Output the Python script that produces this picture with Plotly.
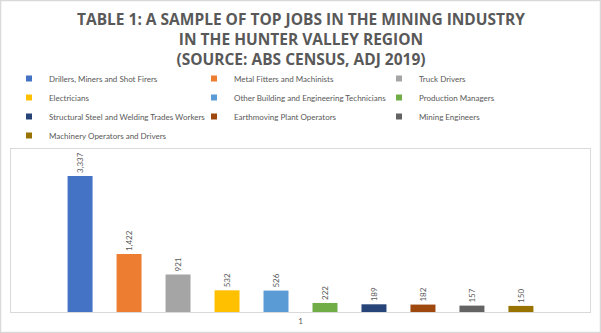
import plotly.graph_objects as go

jobs = [
    "Drillers, Miners and Shot Firers",
    "Metal Fitters and Machinists",
    "Truck Drivers",
    "Electricians",
    "Other Building and Engineering Technicians",
    "Production Managers",
    "Structural Steel and Welding Trades Workers",
    "Earthmoving Plant Operators",
    "Mining Engineers",
    "Machinery Operators and Drivers",
]
counts = [3337, 1422, 921, 532, 526, 222, 189, 182, 157, 150]
category = ["1"]
colors = ["#4472C4", "#ED7D31", "#A5A5A5", "#FFC000", "#5B9BD5",
          "#70AD47", "#264478", "#9E480E", "#636363", "#997300"]
title_text = ("TABLE 1: A SAMPLE OF TOP JOBS IN THE MINING INDUSTRY<br>"
              "IN THE HUNTER VALLEY REGION<br>(SOURCE: ABS CENSUS, ADJ 2019)")

W, H = 601, 333
ml, mr, mt, mb = 11, 11, 149, 21
pw, ph = W - ml - mr, H - mt - mb

fig = go.Figure()
for name, val, col in zip(jobs, counts, colors):
    fig.add_trace(go.Bar(
        x=category, y=[val], name=name, marker_color=col,
        marker_line_width=0,
        texttemplate="%{y:,}", textposition="outside", textangle=-90,
        textfont=dict(family="Lato", size=8, color="#595959"),
        cliponaxis=False, showlegend=False,
    ))
    # legend entry with a small square marker
    fig.add_trace(go.Scatter(
        x=[None], y=[None], mode="markers", name=name,
        marker=dict(symbol="square", size=6, color=col),
    ))

fig.update_layout(
    width=W, height=H,
    margin=dict(l=ml, r=mr, t=mt, b=mb, autoexpand=False),
    paper_bgcolor="white", plot_bgcolor="white",
    barmode="group", bargap=0.154, bargroupgap=0.49,
    annotations=[dict(
        text=title_text, showarrow=False,
        xref="paper", yref="paper", x=0.5, xanchor="center",
        y=1 + (mt - 6) / ph, yanchor="top",
        font=dict(family="Open Sans", size=15.5, color="#595959", weight="bold"),
    )],
    legend=dict(
        orientation="h", xref="container", yref="container",
        x=9 / W, xanchor="left", y=1 - 64 / H, yanchor="top",
        entrywidth=140, entrywidthmode="pixels",
        font=dict(family="Lato", size=8, color="#595959"),
        itemwidth=30, bgcolor="rgba(0,0,0,0)",
    ),
    xaxis=dict(
        showline=True, linecolor="#d9d9d9", linewidth=1, mirror=True,
        showgrid=False, ticks="", type="category", ticklabelstandoff=1,
        tickfont=dict(family="Lato", size=8, color="#595959"),
    ),
    yaxis=dict(
        range=[0, 4000], showline=True, linecolor="#d9d9d9", linewidth=1,
        mirror=True, showgrid=False, zeroline=False, showticklabels=False,
        ticks="",
    ),
    shapes=[dict(
        type="rect", xref="paper", yref="paper",
        x0=-(ml - 0.5) / pw, x1=1 + (mr - 0.5) / pw,
        y0=-(mb - 0.5) / ph, y1=1 + (mt - 0.5) / ph,
        line=dict(color="#d9d9d9", width=1.5), layer="below",
    )],
)

fig.write_html("out.html")
